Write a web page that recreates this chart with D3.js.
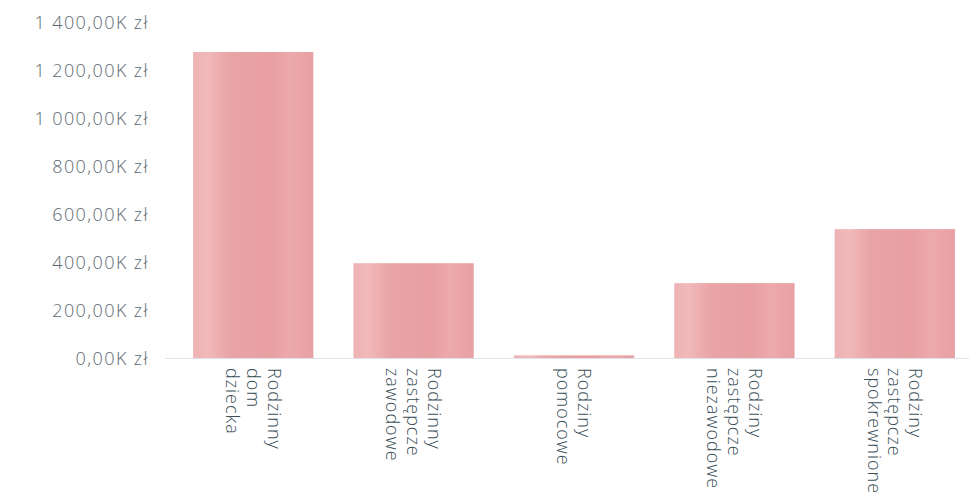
<!DOCTYPE html>
<html><head><meta charset="utf-8">
<script src="https://cdn.jsdelivr.net/npm/d3@7"></script>
<style>
html,body{margin:0;padding:0;background:#fff;}
svg{display:block;}
text{font-family:"Open Sans",sans-serif;}
</style></head>
<body>
<svg id="c" width="969" height="495"></svg>
<script>
const categories = [
  ["Rodzinny","dom","dziecka"],
  ["Rodzinny","zastępcze","zawodowe"],
  ["Rodziny","pomocowe"],
  ["Rodziny","zastępcze","niezawodowe"],
  ["Rodziny","zastępcze","spokrewnione"]
];
const categoryKeys = ["Rodzinny dom dziecka","Rodzinny zastępcze zawodowe","Rodziny pomocowe","Rodziny zastępcze niezawodowe","Rodziny zastępcze spokrewnione"];
const values = [1275000, 395000, 11000, 312000, 537000];
const yTicks = [0, 200000, 400000, 600000, 800000, 1000000, 1200000, 1400000];

const svg = d3.select("#c");
const x = d3.scaleBand().domain(categoryKeys).range([173, 975]).paddingInner(0.25).paddingOuter(0.125);
const y = d3.scaleLinear().domain([0, 1400000]).range([358, 22]);

const loc = d3.formatLocale({decimal: ",", thousands: "\u00a0", grouping: [3], currency: ["", ""]});
const fmt = v => loc.format(",.2f")(v / 1000) + "K zł";

const defs = svg.append("defs");
const g = defs.append("linearGradient").attr("id","barg").attr("x1","0").attr("x2","1").attr("y1","0").attr("y2","0");
[["0","#eeb3b4"],["0.12","#f1b9ba"],["0.3","#e9a4a6"],["0.65","#e89fa2"],["0.8","#eda9ab"],["1","#e8a0a3"]]
  .forEach(([o,c]) => g.append("stop").attr("offset",o).attr("stop-color",c));

// baseline
svg.append("line").attr("x1",165).attr("x2",975).attr("y1",y(0)+0.5).attr("y2",y(0)+0.5)
  .attr("stroke","#dde3e6").attr("stroke-width",1);

// y axis
const yAxis = d3.axisLeft(y).tickValues(yTicks).tickFormat(fmt).tickSize(0).tickPadding(0);
const ya = svg.append("g").attr("transform","translate(149,0)").call(yAxis);
ya.select(".domain").remove();
ya.selectAll("text").attr("font-size",18).attr("fill","#5d6a71").attr("letter-spacing","1.4px")
  .attr("font-weight",300)
  .attr("font-family","Open Sans, sans-serif").attr("dy","0.35em");

// bars
svg.append("g").selectAll("rect").data(values).join("rect")
  .attr("x",(d,i)=>x(categoryKeys[i]))
  .attr("width",x.bandwidth())
  .attr("y",d=>y(d))
  .attr("height",d=>y(0)-y(d))
  .attr("fill","url(#barg)");

// x labels
const lh = 21;
const xl = svg.append("g").selectAll("g").data(categories).join("g")
  .attr("transform",(d,i)=>`translate(${x(categoryKeys[i]) + x.bandwidth()/2},368) rotate(90)`);
xl.each(function(lines){
  const n = lines.length;
  d3.select(this).selectAll("text").data(lines).join("text")
    .attr("x",0)
    .attr("y",(t,j)=>(j-(n-1)/2)*lh)
    .attr("dy","0.35em")
    .attr("text-anchor","start")
    .attr("font-size",18)
    .attr("font-weight",300)
    .attr("letter-spacing","1px")
    .attr("fill","#3a4f59")
    .text(t=>t);
});
</script>
</body></html>
